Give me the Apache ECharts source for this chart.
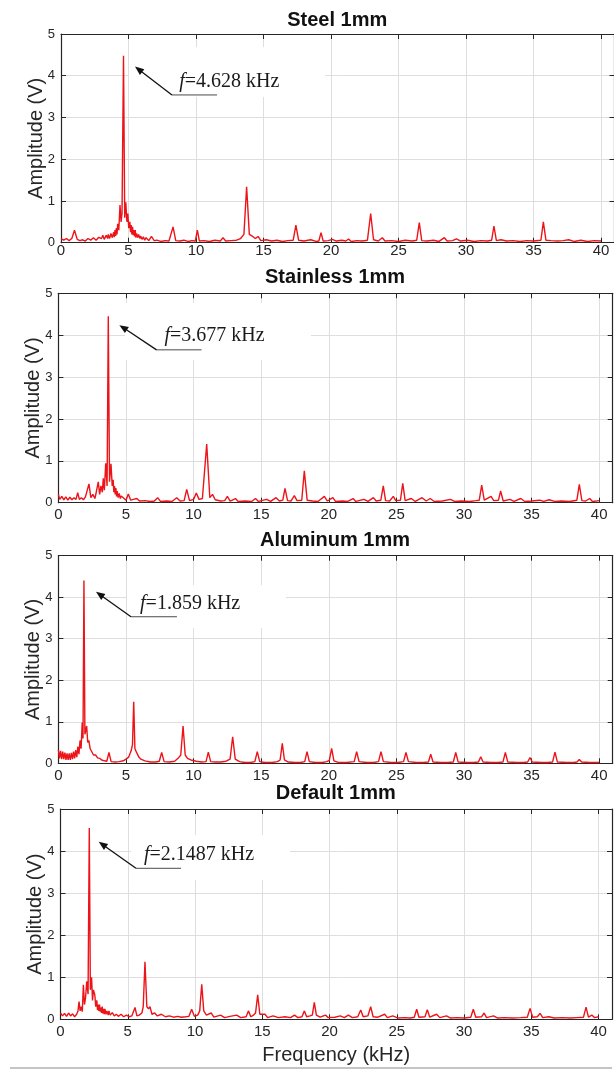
<!DOCTYPE html>
<html><head><meta charset="utf-8">
<script src="https://cdn.jsdelivr.net/npm/echarts@6/dist/echarts.min.js"></script>
<style>html,body{margin:0;padding:0;background:#fff}#c{width:614px;height:1070px}</style>
</head><body><div id="c"></div>
<script>
// ---------- DATA ----------
const panelTitles = ['Steel 1mm', 'Stainless 1mm', 'Aluminum 1mm', 'Default 1mm'];
const peakFreqLabels = ['4.628', '3.677', '1.859', '2.1487'];
const xTickValues = [0, 5, 10, 15, 20, 25, 30, 35, 40];
const yTickValues = [0, 1, 2, 3, 4, 5];

// [frequency kHz, amplitude V]
const steel = [[0,0.1],[0.2,0.06],[0.4,0.1],[0.6,0.05],[0.8,0.1],[1.0,0.3],[1.2,0.08],[1.4,0.05],[1.6,0.07],[1.8,0.04],[2.0,0.1],[2.2,0.06],[2.4,0.12],[2.6,0.06],[2.8,0.13],[3.0,0.1],[3.1,0.18],[3.2,0.08],[3.35,0.18],[3.45,0.1],[3.5,0.2],[3.6,0.1],[3.7,0.22],[3.8,0.12],[3.9,0.25],[3.95,0.13],[4.0,0.3],[4.05,0.16],[4.1,0.35],[4.15,0.2],[4.2,0.45],[4.28,0.3],[4.37,0.9],[4.45,0.5],[4.52,0.7],[4.63,4.48],[4.72,0.6],[4.8,0.97],[4.88,0.5],[4.95,0.7],[5.02,0.35],[5.1,0.5],[5.15,0.25],[5.2,0.42],[5.25,0.2],[5.3,0.38],[5.35,0.18],[5.4,0.3],[5.45,0.15],[5.5,0.3],[5.55,0.12],[5.6,0.22],[5.7,0.12],[5.75,0.2],[5.85,0.1],[5.9,0.16],[6.0,0.08],[6.1,0.14],[6.2,0.06],[6.3,0.12],[6.5,0.05],[6.7,0.15],[6.9,0.05],[7.1,0.06],[7.4,0.03],[7.7,0.05],[8.0,0.04],[8.1,0.06],[8.3,0.38],[8.5,0.05],[8.8,0.04],[9.1,0.06],[9.4,0.03],[9.7,0.05],[9.95,0.04],[10.1,0.3],[10.25,0.04],[10.6,0.05],[11.0,0.03],[11.4,0.06],[11.8,0.04],[12.0,0.12],[12.2,0.04],[12.6,0.05],[13.0,0.06],[13.3,0.1],[13.55,0.2],[13.75,1.34],[13.95,0.2],[14.2,0.15],[14.4,0.1],[14.6,0.15],[14.8,0.05],[15.2,0.07],[15.6,0.04],[16.0,0.06],[16.4,0.03],[16.8,0.05],[17.2,0.06],[17.4,0.42],[17.6,0.06],[18.0,0.04],[18.5,0.07],[18.9,0.03],[19.1,0.04],[19.26,0.24],[19.42,0.04],[19.8,0.05],[20.1,0.08],[20.4,0.04],[20.8,0.06],[21.1,0.04],[21.3,0.09],[21.5,0.03],[21.9,0.05],[22.3,0.04],[22.7,0.06],[22.94,0.7],[23.15,0.07],[23.5,0.04],[23.8,0.12],[24.0,0.04],[24.5,0.05],[25.0,0.03],[25.5,0.06],[26.0,0.04],[26.35,0.06],[26.54,0.48],[26.72,0.05],[27.1,0.04],[27.6,0.06],[28.0,0.03],[28.4,0.12],[28.6,0.04],[29.0,0.05],[29.3,0.09],[29.6,0.04],[30.1,0.06],[30.6,0.03],[31.1,0.05],[31.6,0.04],[31.9,0.06],[32.07,0.4],[32.25,0.05],[32.6,0.07],[33.0,0.04],[33.5,0.05],[34.0,0.03],[34.5,0.05],[35.0,0.04],[35.55,0.06],[35.73,0.5],[35.92,0.06],[36.3,0.05],[36.8,0.04],[37.2,0.05],[37.6,0.07],[38.0,0.03],[38.5,0.06],[39.0,0.03],[39.5,0.05],[40.0,0.04]];

const stainless = [[0,0.2],[0.1,0.08],[0.25,0.15],[0.4,0.07],[0.55,0.14],[0.7,0.06],[0.85,0.13],[1.0,0.07],[1.15,0.12],[1.3,0.08],[1.43,0.24],[1.55,0.08],[1.7,0.12],[1.85,0.07],[2.0,0.14],[2.12,0.1],[2.26,0.45],[2.4,0.12],[2.55,0.2],[2.7,0.1],[2.8,0.25],[2.95,0.5],[3.05,0.2],[3.15,0.4],[3.25,0.25],[3.32,0.58],[3.4,0.3],[3.5,0.94],[3.6,0.4],[3.69,4.45],[3.78,0.5],[3.89,0.93],[3.98,0.4],[4.05,0.55],[4.1,0.25],[4.15,0.4],[4.2,0.2],[4.25,0.35],[4.3,0.15],[4.35,0.28],[4.42,0.12],[4.5,0.22],[4.58,0.1],[4.65,0.16],[4.8,0.12],[5.0,0.06],[5.17,0.21],[5.35,0.06],[5.55,0.08],[5.8,0.1],[6.0,0.04],[6.4,0.05],[6.8,0.03],[7.1,0.04],[7.34,0.12],[7.55,0.03],[8.0,0.04],[8.4,0.03],[8.75,0.12],[9.0,0.04],[9.3,0.05],[9.49,0.32],[9.7,0.05],[10.0,0.08],[10.2,0.23],[10.4,0.08],[10.65,0.1],[10.97,1.4],[11.2,0.12],[11.4,0.2],[11.6,0.07],[12.0,0.04],[12.3,0.05],[12.5,0.15],[12.7,0.04],[13.1,0.1],[13.3,0.03],[13.8,0.04],[14.3,0.03],[14.58,0.1],[14.8,0.03],[15.4,0.08],[15.7,0.03],[16.1,0.12],[16.35,0.04],[16.6,0.06],[16.76,0.34],[16.95,0.05],[17.2,0.04],[17.45,0.17],[17.65,0.05],[18.0,0.06],[18.19,0.76],[18.4,0.06],[18.8,0.04],[19.2,0.03],[19.67,0.15],[19.9,0.04],[20.3,0.12],[20.5,0.03],[21.0,0.04],[21.4,0.03],[21.8,0.1],[22.0,0.03],[22.6,0.08],[22.9,0.03],[23.3,0.12],[23.5,0.04],[23.85,0.06],[24.03,0.4],[24.2,0.05],[24.5,0.04],[24.77,0.15],[24.95,0.05],[25.3,0.06],[25.47,0.46],[25.65,0.05],[26.1,0.1],[26.4,0.03],[26.9,0.12],[27.2,0.04],[27.5,0.1],[27.8,0.03],[28.4,0.04],[29.0,0.08],[29.3,0.03],[29.8,0.04],[30.4,0.03],[30.9,0.05],[31.13,0.06],[31.31,0.42],[31.5,0.06],[32.0,0.15],[32.2,0.05],[32.55,0.06],[32.71,0.28],[32.9,0.04],[33.4,0.08],[33.7,0.03],[34.2,0.1],[34.5,0.03],[35.0,0.04],[35.6,0.06],[35.9,0.03],[36.3,0.07],[36.7,0.03],[37.2,0.04],[37.8,0.03],[38.35,0.06],[38.53,0.44],[38.72,0.05],[39.0,0.04],[39.3,0.1],[39.5,0.03],[40.0,0.05]];

const aluminum = [[0,0.32],[0.08,0.12],[0.16,0.3],[0.24,0.1],[0.32,0.28],[0.4,0.1],[0.48,0.26],[0.56,0.08],[0.64,0.24],[0.72,0.08],[0.8,0.24],[0.88,0.08],[0.96,0.25],[1.04,0.1],[1.12,0.28],[1.2,0.12],[1.28,0.32],[1.36,0.15],[1.44,0.4],[1.52,0.22],[1.6,0.55],[1.68,0.35],[1.76,0.98],[1.82,0.6],[1.89,4.4],[1.96,0.7],[2.09,0.9],[2.17,0.5],[2.25,0.55],[2.35,0.35],[2.45,0.35],[2.6,0.2],[2.75,0.2],[2.9,0.13],[3.05,0.12],[3.2,0.08],[3.4,0.06],[3.58,0.05],[3.74,0.26],[3.9,0.04],[4.2,0.03],[4.5,0.04],[4.8,0.06],[5.0,0.1],[5.2,0.15],[5.38,0.3],[5.48,0.45],[5.57,1.48],[5.66,0.35],[5.8,0.25],[5.95,0.15],[6.1,0.1],[6.4,0.06],[6.8,0.03],[7.2,0.03],[7.46,0.05],[7.64,0.26],[7.82,0.04],[8.2,0.03],[8.6,0.05],[8.85,0.12],[9.05,0.2],[9.22,0.9],[9.38,0.2],[9.55,0.12],[9.8,0.08],[10.2,0.05],[10.6,0.03],[10.92,0.04],[11.09,0.27],[11.26,0.04],[11.6,0.03],[12.0,0.03],[12.4,0.05],[12.7,0.1],[12.89,0.64],[13.08,0.1],[13.4,0.04],[13.8,0.02],[14.2,0.02],[14.53,0.04],[14.71,0.28],[14.89,0.04],[15.3,0.02],[15.8,0.02],[16.2,0.04],[16.4,0.08],[16.56,0.48],[16.72,0.08],[17.0,0.03],[17.5,0.02],[17.9,0.02],[18.22,0.04],[18.39,0.28],[18.56,0.04],[19.0,0.02],[19.5,0.02],[19.85,0.04],[20.04,0.07],[20.21,0.36],[20.38,0.06],[20.7,0.02],[21.3,0.02],[21.88,0.04],[22.06,0.28],[22.24,0.04],[22.8,0.02],[23.3,0.02],[23.68,0.04],[23.86,0.28],[24.04,0.04],[24.6,0.02],[25.1,0.02],[25.53,0.04],[25.71,0.26],[25.89,0.04],[26.5,0.02],[27.0,0.02],[27.37,0.03],[27.54,0.22],[27.71,0.03],[28.3,0.02],[28.8,0.02],[29.21,0.03],[29.39,0.26],[29.57,0.03],[30.2,0.02],[30.7,0.02],[31.07,0.03],[31.24,0.16],[31.41,0.03],[32.0,0.02],[32.5,0.02],[32.88,0.03],[33.06,0.26],[33.24,0.03],[33.9,0.02],[34.4,0.02],[34.71,0.03],[34.88,0.14],[35.05,0.03],[35.7,0.02],[36.2,0.02],[36.55,0.03],[36.73,0.27],[36.91,0.03],[37.6,0.02],[38.1,0.02],[38.36,0.03],[38.53,0.09],[38.7,0.03],[39.3,0.02],[40.0,0.02]];

const defaultMat = [[0,0.15],[0.15,0.08],[0.3,0.14],[0.45,0.07],[0.6,0.15],[0.75,0.08],[0.9,0.13],[1.05,0.06],[1.2,0.12],[1.3,0.2],[1.38,0.42],[1.46,0.2],[1.55,0.3],[1.62,0.18],[1.7,0.82],[1.78,0.35],[1.86,0.5],[1.95,0.9],[2.05,0.6],[2.14,4.55],[2.22,0.7],[2.31,1.0],[2.38,0.45],[2.45,0.7],[2.55,0.58],[2.62,0.3],[2.7,0.45],[2.75,0.22],[2.8,0.35],[2.85,0.2],[2.9,0.35],[2.95,0.18],[3.0,0.28],[3.05,0.15],[3.1,0.3],[3.15,0.14],[3.2,0.25],[3.25,0.12],[3.3,0.25],[3.38,0.12],[3.45,0.2],[3.55,0.1],[3.6,0.2],[3.7,0.1],[3.85,0.16],[4.0,0.08],[4.15,0.12],[4.3,0.07],[4.5,0.12],[4.7,0.06],[4.9,0.1],[5.1,0.06],[5.3,0.08],[5.4,0.1],[5.54,0.28],[5.68,0.08],[5.85,0.1],[6.05,0.15],[6.15,0.3],[6.28,1.37],[6.42,0.3],[6.55,0.25],[6.65,0.3],[6.8,0.12],[7.0,0.15],[7.2,0.08],[7.5,0.12],[7.8,0.06],[8.1,0.08],[8.4,0.05],[8.7,0.07],[9.0,0.05],[9.3,0.06],[9.55,0.07],[9.75,0.24],[9.95,0.07],[10.2,0.1],[10.35,0.2],[10.5,0.83],[10.65,0.2],[10.85,0.1],[11.2,0.15],[11.4,0.05],[11.9,0.1],[12.2,0.04],[12.6,0.07],[13.1,0.1],[13.4,0.04],[13.8,0.06],[13.97,0.2],[14.15,0.06],[14.35,0.1],[14.5,0.15],[14.66,0.58],[14.82,0.12],[15.2,0.12],[15.4,0.04],[15.8,0.08],[16.2,0.04],[16.7,0.06],[17.1,0.04],[17.4,0.1],[17.65,0.04],[17.95,0.06],[18.13,0.2],[18.3,0.06],[18.55,0.08],[18.72,0.1],[18.87,0.4],[19.02,0.1],[19.3,0.05],[19.7,0.1],[19.9,0.04],[20.4,0.05],[20.8,0.08],[21.1,0.04],[21.4,0.1],[21.7,0.04],[22.1,0.06],[22.32,0.22],[22.5,0.06],[22.85,0.08],[23.06,0.3],[23.24,0.06],[23.6,0.05],[24.1,0.12],[24.3,0.04],[24.7,0.08],[25.1,0.03],[25.6,0.04],[26.0,0.03],[26.3,0.05],[26.48,0.24],[26.65,0.05],[27.1,0.06],[27.27,0.23],[27.45,0.05],[27.96,0.12],[28.2,0.04],[28.7,0.08],[29.0,0.03],[29.5,0.04],[30.0,0.03],[30.5,0.05],[30.69,0.24],[30.87,0.05],[31.3,0.06],[31.49,0.15],[31.67,0.04],[32.2,0.08],[32.5,0.03],[33.0,0.04],[33.6,0.03],[34.2,0.04],[34.7,0.05],[34.91,0.26],[35.1,0.05],[35.45,0.06],[35.65,0.14],[35.85,0.04],[36.3,0.06],[36.7,0.03],[37.3,0.04],[37.9,0.03],[38.4,0.04],[38.88,0.05],[39.07,0.29],[39.25,0.05],[39.5,0.1],[39.7,0.04],[40.0,0.06]];

const seriesData = [steel, stainless, aluminum, defaultMat];

// ---------- LAYOUT (pixels / data-space anchors for annotations) ----------
const grids = [
  {left: 61,   top: 34,    width: 553.5, height: 208.7, titleY: 20,    labelMargin: 1},
  {left: 58.4, top: 293.3, width: 554.3, height: 209.4, titleY: 277.5, labelMargin: 5},
  {left: 58.4, top: 555.7, width: 554.3, height: 207.6, titleY: 540,   labelMargin: 5},
  {left: 60.5, top: 809,   width: 551.5, height: 210.3, titleY: 793.3, labelMargin: 5}
];
// annotation anchors in data coordinates
const annot = [
  {tip: [5.48, 4.22], elbow: [8.22, 3.54], underEnd: 11.56, textAt: [8.76, 3.70], box: [5.04, 4.69, 19.56, 3.49]},
  {tip: [4.51, 4.24], elbow: [7.26, 3.65], underEnd: 10.59, textAt: [7.84, 3.81], box: [4.93, 4.77, 18.68, 3.41]},
  {tip: [2.78, 4.13], elbow: [5.37, 3.53], underEnd: 8.77,  textAt: [6.04, 3.67], box: [5.07, 4.29, 16.83, 3.26]},
  {tip: [2.84, 4.22], elbow: [5.61, 3.59], underEnd: 8.96,  textAt: [6.21, 3.75], box: [5.24, 4.38, 17.06, 3.31]}
];

const AX = '#262626', GRIDC = '#dedede', RED = '#ec1419';
const SANS = '"Liberation Sans", Arial, Helvetica, sans-serif';
const SERIF = '"Liberation Serif", "Times New Roman", serif';

const chart = echarts.init(document.getElementById('c'), null, {renderer: 'canvas'});

const option = {
  animation: false,
  backgroundColor: '#ffffff',
  grid: [], xAxis: [], yAxis: [], series: []
};
const xFmt = v => (xTickValues.indexOf(v) >= 0 ? String(v) : '');
const yFmt = v => (yTickValues.indexOf(v) >= 0 ? String(v) : '');

grids.forEach((g, i) => {
  option.grid.push({left: g.left, top: g.top, width: g.width, height: g.height,
    containLabel: false, outerBoundsMode: 'none', show: false});
  const common = {gridIndex: i, type: 'value', min: 0, max: 41, interval: 5,
    axisLine: {show: true, onZero: false, lineStyle: {color: AX, width: 1.2}},
    axisTick: {show: true, inside: true, length: 5, lineStyle: {color: AX, width: 1}}};
  option.xAxis.push(Object.assign({}, common, {position: 'bottom',
    axisLabel: {show: true, formatter: xFmt, color: AX, fontSize: 15, fontFamily: SANS, margin: g.labelMargin},
    splitLine: {show: true, lineStyle: {color: GRIDC, width: 1}},
    name: i === 3 ? 'Frequency (kHz)' : '', nameLocation: 'middle', nameGap: 26, nameMoveOverlap: false,
    nameTextStyle: {color: AX, fontSize: 20, fontFamily: SANS}}));
  option.xAxis.push(Object.assign({}, common, {position: 'top',
    axisLabel: {show: false}, splitLine: {show: false}}));
  const ycommon = {gridIndex: i, type: 'value', min: 0, max: 5, interval: 1,
    axisLine: {show: true, onZero: false, lineStyle: {color: AX, width: 1.2}},
    axisTick: {show: true, inside: true, length: 5, lineStyle: {color: AX, width: 1}}};
  option.yAxis.push(Object.assign({}, ycommon, {position: 'left',
    axisLabel: {show: true, formatter: yFmt, color: AX, fontSize: 13, fontFamily: SANS, margin: 6},
    splitLine: {show: true, lineStyle: {color: GRIDC, width: 1}},
    name: 'Amplitude (V)', nameLocation: 'middle', nameGap: 15, nameMoveOverlap: false,
    nameTextStyle: {color: AX, fontSize: 20, fontFamily: SANS}}));
  option.yAxis.push(Object.assign({}, ycommon, {position: 'right',
    axisLabel: {show: false}, splitLine: {show: false}}));
  option.series.push({type: 'line', name: panelTitles[i], xAxisIndex: i * 2, yAxisIndex: i * 2,
    data: seriesData[i], showSymbol: false, symbol: 'none', clip: true,
    lineStyle: {color: RED, width: 1.4}, itemStyle: {color: RED}, z: 3});
});
chart.setOption(option);

// ---------- annotations (positions from the axes' own scales) ----------
const els = [];
grids.forEach((g, i) => {
  els.push({type: 'text', z: 20, x: g.left + g.width / 2 - 0.5, y: g.titleY,
    style: {text: panelTitles[i], font: 'bold 20px ' + SANS, fill: '#111',
      align: 'center', verticalAlign: 'middle', textAlign: 'center', textVerticalAlign: 'middle'}});
  const a = annot[i];
  const P = p => chart.convertToPixel({gridIndex: i}, p);
  const b0 = P([a.box[0], a.box[1]]), b1 = P([a.box[2], a.box[3]]);
  els.push({type: 'rect', z: 5, shape: {x: b0[0], y: b0[1], width: b1[0] - b0[0], height: b1[1] - b0[1]},
    style: {fill: '#ffffff'}});
  const tip = P(a.tip), el = P(a.elbow), ue = P([a.underEnd, a.elbow[1]]);
  els.push({type: 'line', z: 20, shape: {x1: el[0], y1: el[1], x2: ue[0], y2: el[1]},
    style: {stroke: '#4a4a4a', lineWidth: 1}});
  const dx = tip[0] - el[0], dy = tip[1] - el[1], L = Math.hypot(dx, dy);
  const ux = dx / L, uy = dy / L, hl = 9, hw = 3.6;
  const bx = tip[0] - ux * hl, by = tip[1] - uy * hl;
  els.push({type: 'line', z: 20, shape: {x1: el[0], y1: el[1], x2: bx + ux * 1, y2: by + uy * 1},
    style: {stroke: '#111', lineWidth: 1.3}});
  els.push({type: 'polygon', z: 20, shape: {points: [tip, [bx - uy * hw, by + ux * hw], [bx + uy * hw, by - ux * hw]]},
    style: {fill: '#111'}});
  const tp = P(a.textAt);
  els.push({type: 'text', z: 20, x: tp[0], y: tp[1] - 7,
    style: {text: '{i|f}=' + peakFreqLabels[i] + ' kHz', font: '20px ' + SERIF, fill: '#1a1a1a',
      align: 'left', verticalAlign: 'middle', textAlign: 'left', textVerticalAlign: 'middle',
      rich: {i: {fontStyle: 'italic', fontFamily: SERIF, fontSize: 20, fill: '#1a1a1a', color: '#1a1a1a'}}}});
});
els.push({type: 'line', z: 20, shape: {x1: 10, y1: 1068, x2: 612, y2: 1068}, style: {stroke: '#8a8a8a', lineWidth: 1}});
chart.setOption({graphic: {elements: els}});
</script>
</body></html>
